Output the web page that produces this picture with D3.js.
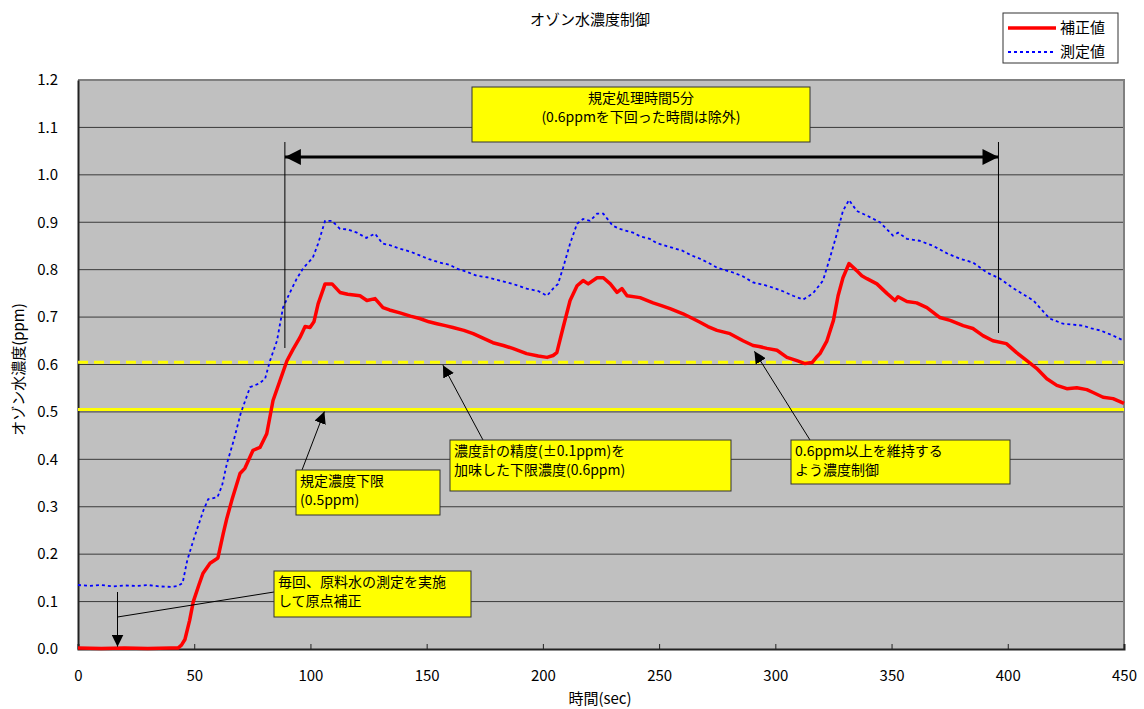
<!DOCTYPE html>
<html>
<head>
<meta charset="utf-8">
<script src="https://cdn.jsdelivr.net/npm/d3@7"></script>
<style>
  body { margin: 0; background: #fff; }
  text { font-family: "Noto Sans CJK JP", "Noto Sans", sans-serif; fill: #000; }
</style>
</head>
<body>
<script>
// 測定値 (blue dotted) [sec, ppm]
const measured = [
  [0,0.135],[5,0.133],[10,0.135],[15,0.132],[20,0.134],[25,0.133],[30,0.135],[35,0.132],[40,0.131],[43,0.133],
  [45,0.139],[47,0.187],[50,0.235],[54,0.293],[56,0.316],[60,0.32],[62,0.345],[64,0.39],[67,0.44],[70,0.497],
  [74,0.552],[78,0.56],[80.5,0.57],[82.6,0.608],[85.6,0.65],[88.2,0.72],[91,0.75],[94,0.78],[97,0.804],[101,0.825],
  [103.3,0.855],[106.3,0.903],[109.3,0.903],[112.7,0.886],[116,0.885],[120,0.878],[124,0.867],[127.8,0.876],[131,0.855],
  [134,0.852],[138.5,0.844],[143,0.838],[147,0.83],[151,0.822],[155.7,0.815],[160,0.81],[163,0.802],[167,0.796],
  [171.6,0.787],[176,0.784],[181.5,0.777],[187,0.77],[193,0.76],[198,0.755],[201.8,0.745],[204.4,0.76],[206.5,0.77],
  [208.7,0.804],[211.7,0.855],[214.7,0.897],[217.3,0.907],[220.3,0.903],[223.3,0.918],[226,0.918],[230,0.893],
  [233,0.886],[238.8,0.878],[242,0.87],[246,0.865],[249,0.856],[253,0.85],[260,0.84],[264,0.83],[267.6,0.823],
  [271,0.815],[275,0.804],[281.8,0.794],[286,0.786],[290.4,0.773],[295,0.768],[299,0.762],[303,0.755],[307.6,0.745],
  [312,0.737],[316.2,0.75],[320.5,0.777],[323.5,0.825],[326.5,0.876],[329.1,0.924],[331.7,0.947],[335,0.924],
  [339.4,0.914],[345,0.9],[350.6,0.872],[352.8,0.878],[356.6,0.865],[362,0.861],[368,0.85],[374,0.834],[379.5,0.823],
  [385,0.815],[391,0.794],[396.7,0.781],[402,0.762],[406,0.75],[411,0.735],[418,0.697],[423.8,0.686],[428,0.684],
  [432.4,0.682],[436,0.676],[439.7,0.672],[445.3,0.661],[450,0.65]
];

// 補正値 (red) [sec, ppm]
const corrected = [
  [0,0.002],[10,0.001],[20,0.002],[30,0.001],[40,0.002],[43,0.002],[44.5,0.008],[46,0.02],[48,0.06],[49.6,0.1],
  [52,0.135],[53.8,0.16],[56.8,0.181],[60.2,0.192],[62.5,0.244],[64,0.275],[66.2,0.314],[69.7,0.37],[71.8,0.381],
  [75.3,0.419],[78.3,0.425],[81.2,0.454],[83.9,0.524],[86.9,0.566],[89.9,0.608],[92.5,0.632],[95.5,0.657],[97.7,0.68],
  [99.8,0.678],[101.5,0.69],[103.3,0.728],[106.3,0.77],[109.3,0.77],[112.7,0.752],[116,0.748],[121.3,0.745],
  [124.3,0.735],[127.8,0.739],[131.2,0.72],[134,0.715],[138.5,0.709],[143,0.702],[147,0.697],[151,0.69],[154.4,0.686],
  [158,0.682],[161.3,0.678],[166,0.672],[170,0.665],[174,0.656],[178.5,0.646],[183,0.64],[187,0.634],[193,0.623],
  [198,0.618],[201.8,0.615],[204.4,0.619],[206,0.625],[208.7,0.678],[211.7,0.735],[214.7,0.766],[217.3,0.777],
  [219.5,0.77],[223.3,0.783],[226,0.783],[229,0.77],[231.9,0.752],[234,0.76],[236.2,0.745],[241.8,0.741],[247.4,0.73],
  [251,0.724],[254.7,0.718],[260.3,0.707],[264,0.698],[267.6,0.689],[271,0.68],[274.9,0.672],[280.5,0.665],
  [286.1,0.65],[290.4,0.64],[293,0.638],[296.4,0.634],[300.7,0.63],[305,0.615],[309.3,0.608],[312.8,0.602],
  [315.8,0.604],[318,0.617],[319.2,0.623],[322.2,0.65],[325,0.693],[327,0.745],[329.1,0.783],[331.7,0.813],[335,0.798],
  [337.2,0.787],[339.4,0.781],[343.7,0.77],[348,0.75],[351.5,0.735],[352.8,0.743],[356.6,0.733],[360.8,0.73],
  [365.2,0.72],[370.8,0.699],[375.2,0.693],[380.8,0.682],[385,0.676],[389.3,0.661],[393.6,0.65],[399.4,0.644],
  [403.8,0.625],[408.2,0.608],[412.4,0.592],[416.8,0.57],[421.1,0.556],[425.4,0.549],[429.7,0.551],[434,0.547],
  [436.7,0.541],[441,0.531],[445.3,0.528],[450,0.518]
];

const limitLine = 0.505;      // 規定濃度下限
const controlLine = 0.605;    // 下限濃度 (0.6ppm)
const spanStart = 89, spanEnd = 396;   // 規定処理時間
const xTicks = d3.range(0, 451, 50);
const yTicks = d3.range(0, 13).map(d => d / 10);

const width = 1144, height = 709;
const margin = {left: 78, right: 20, top: 80, bottom: 60};

const svg = d3.select("body").append("svg")
    .attr("width", width)
    .attr("height", height);

const x = d3.scaleLinear().domain([0, 450]).range([margin.left, width - margin.right]);
const y = d3.scaleLinear().domain([0, 1.2]).range([height - margin.bottom, margin.top]);

// plot background
svg.append("rect")
    .attr("x", x(0)).attr("y", y(1.2))
    .attr("width", x(450) - x(0)).attr("height", y(0) - y(1.2))
    .attr("fill", "#c0c0c0");

// gridlines
svg.append("g").selectAll("line")
    .data(yTicks.filter(d => d > 0 && d < 1.2))
    .enter().append("line")
    .attr("x1", x(0)).attr("x2", x(450))
    .attr("y1", d => y(d)).attr("y2", d => y(d))
    .attr("stroke", "#3a3a3a").attr("stroke-width", 1);

// border: top/right grey, left/bottom black
svg.append("path")
    .attr("d", `M${x(0)},${y(1.2)}H${x(450)}V${y(0)}`)
    .attr("fill", "none").attr("stroke", "#808080").attr("stroke-width", 2);

const xAxis = svg.append("g")
    .attr("transform", `translate(0,${y(0)})`)
    .call(d3.axisBottom(x).tickValues(xTicks).tickSize(-5).tickPadding(21).tickFormat(d3.format("d")));
xAxis.select(".domain").attr("stroke", "#222").attr("stroke-width", 2);
xAxis.selectAll(".tick line").attr("stroke", "#222");
xAxis.selectAll("text").attr("font-size", 15).attr("font-family", "Arial, 'Liberation Sans', sans-serif");

const yAxis = svg.append("g")
    .attr("transform", `translate(${x(0)},0)`)
    .call(d3.axisLeft(y).tickValues(yTicks).tickSize(0).tickPadding(20).tickFormat(d3.format(".1f")));
yAxis.select(".domain").attr("stroke", "#222").attr("stroke-width", 2);
yAxis.selectAll("text").attr("font-size", 15).attr("font-family", "Arial, 'Liberation Sans', sans-serif");

// reference lines
svg.append("line")
    .attr("x1", x(0)).attr("x2", x(450))
    .attr("y1", y(limitLine)).attr("y2", y(limitLine))
    .attr("stroke", "#ffff00").attr("stroke-width", 3);
svg.append("line")
    .attr("x1", x(0)).attr("x2", x(450))
    .attr("y1", y(controlLine)).attr("y2", y(controlLine))
    .attr("stroke", "#ffff00").attr("stroke-width", 3)
    .attr("stroke-dasharray", "10,6");

const line = d3.line().x(d => x(d[0])).y(d => y(d[1]));

svg.append("path")
    .datum(measured)
    .attr("d", line)
    .attr("fill", "none")
    .attr("stroke", "#0000ff").attr("stroke-width", 1.8)
    .attr("stroke-dasharray", "3,3");

svg.append("path")
    .datum(corrected)
    .attr("d", line)
    .attr("fill", "none")
    .attr("stroke", "#ff0000").attr("stroke-width", 3.5)
    .attr("stroke-linejoin", "round");

// arrow markers
const defs = svg.append("defs");
defs.append("marker")
    .attr("id", "tri")
    .attr("viewBox", "0 0 10 10")
    .attr("refX", 10).attr("refY", 5)
    .attr("markerWidth", 12).attr("markerHeight", 12)
    .attr("markerUnits", "userSpaceOnUse")
    .attr("orient", "auto-start-reverse")
  .append("path").attr("d", "M0,0L10,5L0,10Z").attr("fill", "#000");
defs.append("marker")
    .attr("id", "bigtri")
    .attr("viewBox", "0 0 10 10")
    .attr("refX", 10).attr("refY", 5)
    .attr("markerWidth", 16).attr("markerHeight", 16)
    .attr("markerUnits", "userSpaceOnUse")
    .attr("orient", "auto-start-reverse")
  .append("path").attr("d", "M0,0L10,5L0,10Z").attr("fill", "#000");

// processing span
const spanY = 157;
[spanStart, spanEnd].forEach(t => {
  svg.append("line")
      .attr("x1", x(t)).attr("x2", x(t))
      .attr("y1", 142).attr("y2", t === spanStart ? 348 : 333)
      .attr("stroke", "#000").attr("stroke-width", 1);
});
svg.append("line")
    .attr("x1", x(spanStart)).attr("x2", x(spanEnd))
    .attr("y1", spanY).attr("y2", spanY)
    .attr("stroke", "#000").attr("stroke-width", 3)
    .attr("marker-start", "url(#bigtri)")
    .attr("marker-end", "url(#bigtri)");

// annotation boxes
function noteBox(bx, by, bw, bh, lines, anchor) {
  svg.append("rect")
      .attr("x", bx).attr("y", by).attr("width", bw).attr("height", bh)
      .attr("fill", "#ffff00").attr("stroke", "#333").attr("stroke-width", 1);
  lines.forEach((s, i) => {
    svg.append("text")
        .attr("x", anchor === "middle" ? bx + bw / 2 : bx + 4)
        .attr("y", by + 16 + i * 19)
        .attr("text-anchor", anchor || "start")
        .attr("font-size", 14)
        .text(s);
  });
}

function pointer(x1, y1, x2, y2) {
  svg.append("line")
      .attr("x1", x1).attr("y1", y1).attr("x2", x2).attr("y2", y2)
      .attr("stroke", "#000").attr("stroke-width", 1)
      .attr("marker-end", "url(#tri)");
}

noteBox(472, 87, 338, 55, ["規定処理時間5分", "(0.6ppmを下回った時間は除外)"], "middle");

pointer(302, 470, x(106), y(limitLine) + 2);
noteBox(296, 470, 144, 45, ["規定濃度下限", "(0.5ppm)"]);

pointer(483, 440, x(157), y(controlLine) + 3);
noteBox(450, 440, 281, 51, ["濃度計の精度(±0.1ppm)を", "加味した下限濃度(0.6ppm)"]);

pointer(810, 440, x(291), y(0.63) + 1);
noteBox(791, 440, 219, 44, ["0.6ppm以上を維持する", "よう濃度制御"]);

svg.append("line")
    .attr("x1", 274).attr("y1", 592).attr("x2", x(17)).attr("y2", 617)
    .attr("stroke", "#000").attr("stroke-width", 1);
svg.append("line")
    .attr("x1", x(17)).attr("y1", 592).attr("x2", x(17)).attr("y2", y(0.005))
    .attr("stroke", "#000").attr("stroke-width", 1)
    .attr("marker-end", "url(#tri)");
noteBox(274, 571, 197, 46, ["毎回、原料水の測定を実施", "して原点補正"]);

// title and axis labels
svg.append("text")
    .attr("x", 590).attr("y", 25)
    .attr("text-anchor", "middle")
    .attr("font-size", 15)
    .text("オゾン水濃度制御");

svg.append("text")
    .attr("x", 600).attr("y", 704)
    .attr("text-anchor", "middle")
    .attr("font-size", 15)
    .text("時間(sec)");

svg.append("text")
    .attr("transform", `translate(24,${(y(0) + y(1.2)) / 2 + 5}) rotate(-90)`)
    .attr("text-anchor", "middle")
    .attr("font-size", 15)
    .text("オゾン水濃度(ppm)");

// legend
const legend = svg.append("g").attr("transform", "translate(1003,13)");
legend.append("rect")
    .attr("width", 115).attr("height", 50)
    .attr("fill", "#fff").attr("stroke", "#333");
legend.append("line")
    .attr("x1", 5).attr("x2", 53).attr("y1", 15).attr("y2", 15)
    .attr("stroke", "#ff0000").attr("stroke-width", 3.5);
legend.append("line")
    .attr("x1", 5).attr("x2", 53).attr("y1", 39).attr("y2", 39)
    .attr("stroke", "#0000ff").attr("stroke-width", 1.8).attr("stroke-dasharray", "3,3");
legend.append("text").attr("x", 57).attr("y", 20).attr("font-size", 15).text("補正値");
legend.append("text").attr("x", 57).attr("y", 44).attr("font-size", 15).text("測定値");
</script>
</body>
</html>
